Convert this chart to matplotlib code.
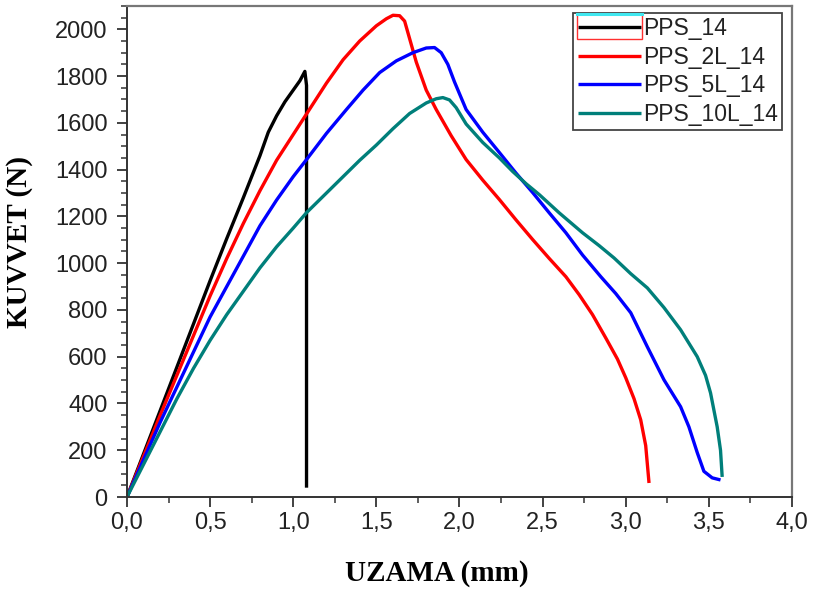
import matplotlib
matplotlib.use("Agg")
import matplotlib.pyplot as plt
from matplotlib.ticker import MultipleLocator, FuncFormatter
from matplotlib.lines import Line2D
from matplotlib.patches import Rectangle

# Force-elongation data (UZAMA in mm, KUVVET in N)
pps14_x = [0.0, 0.1, 0.2, 0.3, 0.4, 0.5, 0.6, 0.7, 0.8, 0.85, 0.9, 0.95, 1.0,
           1.04, 1.07, 1.08, 1.08]
pps14_y = [0, 185, 370, 555, 740, 925, 1105, 1280, 1460, 1560, 1630, 1690, 1740,
           1780, 1820, 1760, 40]

pps2l_x = [0.0, 0.1, 0.2, 0.3, 0.4, 0.5, 0.6, 0.7, 0.8, 0.9, 1.0, 1.1, 1.2, 1.3,
           1.4, 1.5, 1.56, 1.6, 1.64, 1.67, 1.7, 1.74, 1.8, 1.86, 1.95, 2.04, 2.14,
           2.24, 2.34, 2.44, 2.54, 2.64, 2.72, 2.8, 2.88, 2.95, 3.0, 3.05, 3.09,
           3.12, 3.14]
pps2l_y = [0, 175, 350, 520, 690, 860, 1020, 1170, 1310, 1440, 1550, 1660, 1770,
           1870, 1950, 2015, 2045, 2060, 2058, 2035, 1960, 1860, 1740, 1657, 1545,
           1443, 1355, 1272, 1185, 1101, 1020, 942, 865, 780, 680, 590, 510, 420,
           330, 220, 60]

pps5l_x = [0.0, 0.1, 0.2, 0.3, 0.4, 0.5, 0.6, 0.7, 0.8, 0.9, 1.0, 1.08, 1.2,
           1.32, 1.42, 1.52, 1.62, 1.72, 1.8, 1.85, 1.89, 1.93, 1.97, 2.04, 2.14,
           2.24, 2.34, 2.44, 2.54, 2.64, 2.74, 2.85, 2.94, 3.03, 3.13, 3.23, 3.33,
           3.38, 3.43, 3.47, 3.52, 3.57]
pps5l_y = [0, 160, 320, 470, 620, 770, 900, 1030, 1160, 1270, 1370, 1443, 1555,
           1657, 1740, 1815, 1865, 1900, 1920, 1922, 1900, 1850, 1775, 1657, 1560,
           1473, 1385, 1302, 1215, 1130, 1035, 942, 870, 788, 642, 501, 386, 300,
           190, 110, 82, 73]

pps10l_x = [0.0, 0.1, 0.2, 0.3, 0.4, 0.5, 0.6, 0.7, 0.8, 0.9, 1.0, 1.08, 1.2,
            1.3, 1.4, 1.5, 1.6, 1.7, 1.8, 1.86, 1.9, 1.94, 1.98, 2.04, 2.14, 2.24,
            2.32, 2.4, 2.48, 2.6, 2.74, 2.84, 2.93, 3.03, 3.13, 3.23, 3.33, 3.43,
            3.48, 3.51, 3.55, 3.57, 3.58]
pps10l_y = [0, 140, 280, 420, 550, 670, 780, 880, 980, 1070, 1150, 1216, 1300,
            1370, 1440, 1505, 1575, 1640, 1685, 1703, 1708, 1698, 1665, 1595, 1516,
            1450, 1392, 1340, 1293, 1215, 1130, 1075, 1022, 955, 894, 810, 715,
            600, 520, 445, 300, 200, 86]

labels = ["PPS_14", "PPS_2L_14", "PPS_5L_14", "PPS_10L_14"]
colors = ["#000000", "#ff0000", "#0000ff", "#007f7a"]

plt.rcParams["font.family"] = ["Liberation Sans", "DejaVu Sans"]

fig = plt.figure(figsize=(8.16, 5.91), dpi=100)
ax = fig.add_axes([0.1556, 0.159, 0.815, 0.831])

series = [(pps14_x, pps14_y), (pps2l_x, pps2l_y), (pps5l_x, pps5l_y), (pps10l_x, pps10l_y)]
for (xs, ys), lab, col in zip(series, labels, colors):
    ax.plot(xs, ys, color=col, lw=2.4, label=lab, solid_joinstyle="round",
            solid_capstyle="butt")

ax.set_xlim(0, 4.0)
ax.set_ylim(0, 2100)
ax.xaxis.set_major_locator(MultipleLocator(0.5))
ax.xaxis.set_minor_locator(MultipleLocator(0.25))
ax.yaxis.set_major_locator(MultipleLocator(200))
ax.yaxis.set_minor_locator(MultipleLocator(50))
ax.xaxis.set_major_formatter(FuncFormatter(lambda v, p: f"{v:.1f}".replace(".", ",")))
ax.yaxis.set_major_formatter(FuncFormatter(lambda v, p: f"{v:.0f}"))

ax.tick_params(which="major", direction="out", length=7, width=1.3, pad=4,
               labelsize=17, colors="#333333", labelcolor="#222222")
ax.tick_params(axis="y", which="major", pad=7)
ax.tick_params(which="minor", direction="out", length=4.5, width=1.1, colors="#333333")
ax.tick_params(top=False, right=False, which="both")

for side in ["left", "bottom"]:
    ax.spines[side].set_color("#333333")
    ax.spines[side].set_linewidth(1.4)
for side in ["top", "right"]:
    ax.spines[side].set_color("#777777")
    ax.spines[side].set_linewidth(1.6)

ax.set_xlabel("UZAMA (mm)", family="Liberation Serif", fontweight="bold", fontsize=21)
ax.set_ylabel("KUVVET (N)", family="Liberation Serif", fontweight="bold", fontsize=21)
ax.xaxis.set_label_coords(0.466, -0.128)
ax.yaxis.set_label_coords(-0.141, 0.52)

leg = ax.legend(loc="upper right", bbox_to_anchor=(0.9855, 0.986), fontsize=16.5,
                frameon=True, fancybox=False, edgecolor="#444444", framealpha=1,
                handlelength=2.75, handletextpad=0.12, borderpad=0.18,
                labelspacing=0.25, borderaxespad=0)
leg.get_frame().set_linewidth(1.3)
for text in leg.get_texts():
    text.set_color("#222222")

# Marker box around the first legend key, with a cyan edge on top
fig.canvas.draw()
inv = fig.transFigure.inverted()
h0 = leg.legend_handles[0].get_window_extent()
h1 = leg.legend_handles[1].get_window_extent()
lb = leg.get_window_extent()
x0, x1 = h0.x0 - 1, h0.x1 + 1
y_top = lb.y1 - 1
y_bot = (h0.y0 + h1.y1) / 2 + 2
(fx0, fy0) = inv.transform((x0, y_bot))
(fx1, fy1) = inv.transform((x1, y_top))
fig.add_artist(Rectangle((fx0, fy0), fx1 - fx0, fy1 - fy0, transform=fig.transFigure,
                         fill=False, edgecolor="#ff3030", linewidth=1.0))
fig.add_artist(Line2D([fx0, fx1], [fy1, fy1], transform=fig.transFigure,
                      color="#40e8f0", linewidth=2.2))

fig.savefig("out.png", dpi=100)
